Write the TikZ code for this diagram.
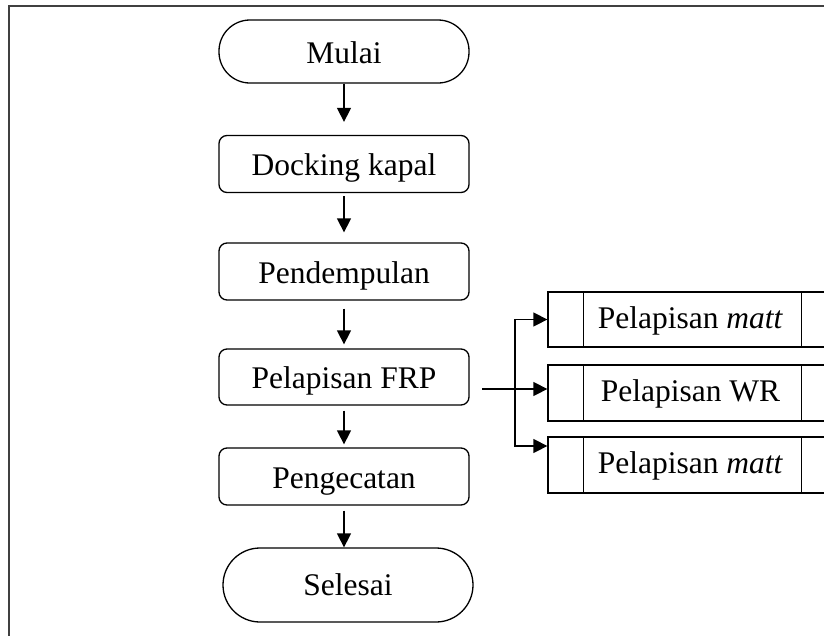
\documentclass[tikz,border=0pt]{standalone}
\usepackage{fontspec}
\setmainfont{Liberation Serif}
\usetikzlibrary{arrows.meta,calc}
\begin{document}
\begin{tikzpicture}[x=1pt,y=-1pt,
  every node/.style={font=\fontsize{31.5}{36}\selectfont},
  base/.style={draw, line width=1.3pt, inner sep=0pt, text height=23pt, text depth=0pt, minimum width=250pt},
  term/.style={base, rounded corners=31pt, minimum height=63pt},
  proc/.style={base, rounded corners=8pt, minimum height=57pt},
  prebox/.style={draw, line width=1.3pt, inner sep=0pt, minimum width=289pt, minimum height=55pt, text height=17pt, text depth=0pt},
  arr/.style={line width=1.4pt, -{Triangle[length=14pt,width=14pt]}}]
\useasboundingbox (0,0) rectangle (824,635);
\begin{scope}
\clip (0,0) rectangle (824,635);
\draw[line width=2pt, draw=black!75] (9,6) rectangle (860,680);

\node[term] (start) at (344,51.5) {Mulai};
\node[proc] (dock) at (344,164) {Docking kapal};
\node[proc] (demp) at (344,271.5) {Pendempulan};
\node[proc, minimum height=56pt] (frp) at (344,377) {Pelapisan FRP};
\node[proc] (cat) at (344,476.5) {Pengecatan};
\node[term, rounded corners=37pt, minimum height=74pt, text height=20pt] (end) at (348,585) {Selesai};

\node[prebox] (m1) at (692.5,319.5) {\hspace*{-4pt}Pelapisan \textit{matt}};
\node[prebox, minimum height=56pt] (wr) at (692.5,393) {\hspace*{-4pt}Pelapisan WR};
\node[prebox, minimum height=56pt] (m2) at (692.5,465) {\hspace*{-4pt}Pelapisan \textit{matt}};
\foreach \b in {m1,wr,m2}{
  \draw[line width=1.3pt] ($(\b.north west)+(36,0)$) -- ($(\b.south west)+(36,0)$);
  \draw[line width=1.3pt] ($(\b.north east)+(-36,0)$) -- ($(\b.south east)+(-36,0)$);
}

\draw[arr, shorten >=13pt] (start.south) -- (dock.north);
\draw[arr, shorten <=3pt, shorten >=10pt] (dock.south) -- (demp.north);
\draw[arr, shorten <=8pt, shorten >=4pt] (demp.south) -- (frp.north);
\draw[arr, shorten <=5pt, shorten >=3pt] (frp.south) -- (cat.north);
\draw[arr, shorten <=5pt] (cat.south) -- (end.north -| cat.south);

\coordinate (src) at (482,389);
\coordinate (br) at (515,389);
\draw[line width=1.4pt] (src) -- (br);
\draw[arr] (src) -- (wr.west |- src);
\draw[arr] (br) |- (m1.west);
\draw[arr] (br) |- ($(m2.west)+(0,-19)$);
\end{scope}
\end{tikzpicture}
\end{document}
